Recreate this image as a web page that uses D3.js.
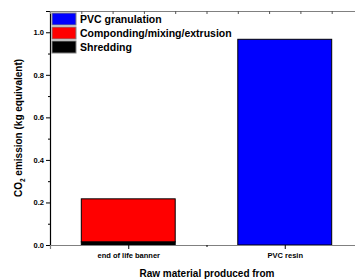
<!DOCTYPE html>
<html>
<head>
<meta charset="utf-8">
<script src="https://cdn.jsdelivr.net/npm/d3@7"></script>
<style>
body { margin: 0; background: #fff; }
text { font-family: "Liberation Sans", Arial, sans-serif; font-weight: bold; }
</style>
</head>
<body>
<div class="main"></div>
<script>
const WIDTH = 355;
const HEIGHT = 280;

// categories along x (positioned at 1, 2)
const categories = ["end of life banner", "PVC resin"];
// stack layers, bottom to top
const layers = ["Shredding", "Componding/mixing/extrusion", "PVC granulation"];
const layerColors = ["#000000", "#ff0000", "#0000ff"];
const shredding = [0.015, 0];
const componding = [0.202, 0];
const granulation = [0, 0.967];
const yTicks = [0.0, 0.2, 0.4, 0.6, 0.8, 1.0];

const margin = {left: 50, right: -8, top: 11, bottom: 35};

var svg = d3.select(".main")
    .append("svg")
        .attr("width", WIDTH)
        .attr("height", HEIGHT);

var x = d3.scaleLinear()
    .domain([0.5, 2.5])
    .range([margin.left, WIDTH - margin.right]);
var y = d3.scaleLinear()
    .domain([0, 1.1])
    .range([HEIGHT - margin.bottom, margin.top]);

var rows = categories.map((c, i) => ({
    cat: c, pos: i + 1,
    Shredding: shredding[i],
    "Componding/mixing/extrusion": componding[i],
    "PVC granulation": granulation[i]
}));
var stack = d3.stack().keys(layers)(rows);

var barW = 0.6;
stack.forEach((layer, li) => {
    svg.append("g")
        .selectAll("rect")
        .data(layer.filter(d => d[1] - d[0] > 0))
        .join("rect")
        .attr("x", d => x(d.data.pos - barW / 2))
        .attr("width", d => x(d.data.pos + barW / 2) - x(d.data.pos - barW / 2))
        .attr("y", d => y(d[1]))
        .attr("height", d => y(d[0]) - y(d[1]))
        .attr("fill", layerColors[li])
        .attr("stroke", "#000")
        .attr("stroke-width", 1);
});

// left axis
var yAxis = svg.append("g")
    .attr("transform", `translate(${margin.left},0)`)
    .call(d3.axisLeft(y).tickValues(yTicks).tickFormat(d3.format(".1f")).tickSize(4).tickPadding(2));
yAxis.select(".domain").attr("stroke", "#000").attr("stroke-width", 1.2);
yAxis.selectAll("text").attr("font-size", 7.5).attr("fill", "#000");
svg.append("g")
    .attr("transform", `translate(${margin.left},0)`)
    .call(d3.axisLeft(y).tickValues(d3.range(0.1, 1.1, 0.2)).tickFormat("").tickSize(2))
    .select(".domain").remove();

// bottom axis
var xAxis = svg.append("g")
    .attr("transform", `translate(0,${HEIGHT - margin.bottom})`)
    .call(d3.axisBottom(x).tickValues([1, 2]).tickFormat((d, i) => categories[i]).tickSize(4).tickPadding(4));
xAxis.select(".domain").attr("stroke", "#808080").attr("stroke-width", 1.2);
xAxis.selectAll("text").attr("font-size", 7.5).attr("fill", "#000");
svg.append("g")
    .attr("transform", `translate(0,${HEIGHT - margin.bottom})`)
    .call(d3.axisBottom(x).tickValues([1.5]).tickFormat("").tickSize(2))
    .select(".domain").remove();

// top axis, ticks inward
var topAxis = svg.append("g")
    .attr("transform", `translate(0,${margin.top})`)
    .call(d3.axisBottom(x).tickValues(d3.range(0.7, 2.5, 0.2)).tickFormat("").tickSize(3));
topAxis.select(".domain").attr("stroke", "#808080").attr("stroke-width", 1.2);
topAxis.selectAll(".tick line").attr("stroke", "#555");

// axis titles
var yl = svg.append("text")
    .attr("transform", `translate(22,${(y(0) + y(1.1)) / 2}) rotate(-90)`)
    .attr("text-anchor", "middle")
    .attr("font-size", 10);
yl.append("tspan").text("CO");
yl.append("tspan").text("2").attr("font-size", 6.5).attr("dy", 2.5);
yl.append("tspan").text(" emission (kg equivalent)").attr("dy", -2.5);

svg.append("text")
    .attr("x", 207)
    .attr("y", 277)
    .attr("text-anchor", "middle")
    .attr("font-size", 10)
    .text("Raw material produced from");

// legend (top to bottom: granulation, componding, shredding)
var legend = svg.append("g")
    .selectAll("g")
    .data(layers.slice().reverse())
    .join("g")
    .attr("transform", (d, i) => `translate(52,${13 + i * 14})`);
legend.append("rect")
    .attr("width", 24)
    .attr("height", 12)
    .attr("fill", (d, i) => layerColors[layers.length - 1 - i])
    .attr("stroke", "#808080")
    .attr("stroke-width", 1);
legend.append("text")
    .attr("x", 28)
    .attr("y", 10)
    .attr("font-size", 10.5)
    .text(d => d);
</script>
</body>
</html>
